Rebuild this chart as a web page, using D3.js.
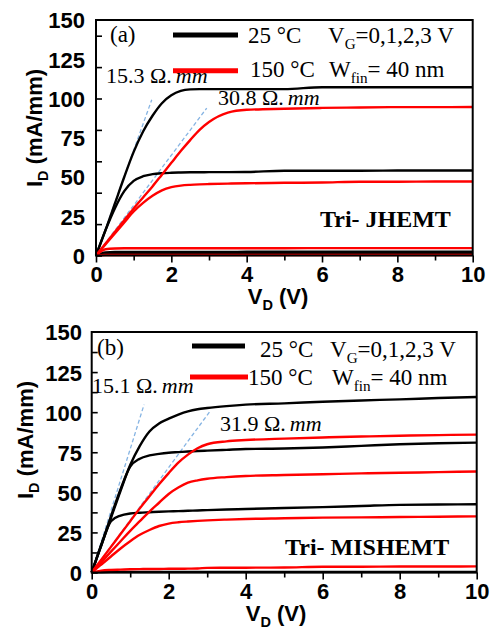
<!DOCTYPE html>
<html>
<head>
<meta charset="utf-8">
<script src="https://cdn.jsdelivr.net/npm/d3@7/dist/d3.min.js"></script>
<style>
  body { margin: 0; background: #fff; }
  .tick text { font-family: "Liberation Sans", Arial, sans-serif; font-weight: bold; font-size: 22px; fill: #000; }
  .serif { font-family: "Liberation Serif", "Times New Roman", serif; fill: #000; }
</style>
</head>
<body>
<div id="chart"></div>
<script>
// drain voltage grid shared by all curves
var vd = [0, 0.25, 0.5, 0.75, 1, 1.25, 1.5, 1.75, 2, 2.25, 2.5, 2.75, 3, 3.5, 4, 5, 6, 7, 8, 9, 10];

// (a) Tri- JHEMT, 25 C, VG = 3,2,1,0
var a25_3 = [0, 16, 33, 50, 66, 79, 89, 97, 102, 104.8, 105.8, 106, 106, 106, 106, 106, 107.2, 107.2, 107.2, 107.2, 107.2];
var a25_2 = [0, 16, 30, 41, 47.5, 50.5, 51.8, 52.4, 52.7, 52.9, 53, 53, 53.1, 53.1, 53.2, 54, 54, 54, 54.1, 54.1, 54.1];
var a25_1 = [0, 2, 2.2, 2.2, 2.2, 2.2, 2.2, 2.2, 2.2, 2.2, 2.2, 2.2, 2.2, 2.2, 2.4, 2.4, 2.4, 2.4, 2.4, 2.4, 2.4];
var a25_0 = [0, 0.8, 1, 1, 1, 1, 1, 1, 1, 1, 1, 1, 1, 1, 1, 1, 1, 1, 1, 1, 1];
// (a) 150 C
var a150_3 = [0, 7.5, 15, 22.5, 30, 37, 44, 51.5, 59, 66.5, 73.5, 80, 85, 91, 92.8, 93.5, 94, 94.3, 94.5, 94.5, 94.6];
var a150_2 = [0, 7, 14, 21, 28, 33.5, 38, 41.5, 43.5, 44.5, 45, 45.3, 45.5, 45.8, 46, 46.3, 46.5, 47, 47, 47.1, 47.1];
var a150_1 = [0, 4, 4.5, 4.6, 4.6, 4.6, 4.6, 4.6, 4.6, 4.6, 4.6, 4.6, 4.6, 4.6, 4.6, 4.6, 4.7, 4.7, 4.7, 4.7, 4.7];
var a150_0 = [0, 0.3, 0.3, 0.3, 0.3, 0.3, 0.3, 0.3, 0.3, 0.3, 0.3, 0.3, 0.3, 0.3, 0.3, 0.3, 0.3, 0.3, 0.3, 0.3, 0.3];

// (b) Tri- MISHEMT, 25 C
var b25_3 = [0, 17, 34, 51, 67, 79, 88, 93, 96, 98.5, 100.5, 101.8, 102.6, 103.8, 104.7, 105.5, 106.5, 107.3, 108, 108.8, 109.5];
var b25_2 = [0, 17.5, 35, 52, 66, 71, 73, 74, 74.7, 75.1, 75.5, 75.8, 76, 76.5, 77, 77.3, 78, 79, 80, 80.6, 81];
var b25_1 = [0, 17, 32, 35.5, 36.8, 37.3, 37.6, 37.9, 38.1, 38.3, 38.5, 38.7, 38.9, 39.3, 39.6, 40.2, 40.8, 41.5, 42.2, 42.4, 42.6];
var b25_0 = [0, 0.2, 0.3, 0.3, 0.3, 0.3, 0.3, 0.3, 0.3, 0.3, 0.3, 0.3, 0.3, 0.3, 0.3, 0.3, 0.3, 0.3, 0.3, 0.3, 0.3];
// (b) 150 C
var b150_3 = [0, 8, 16, 24, 32, 40, 47.5, 55, 62, 68.5, 73.5, 77.5, 80, 81.8, 82.6, 83.5, 84.2, 84.8, 85.3, 85.7, 86];
var b150_2 = [0, 6.5, 13, 19.5, 26, 32, 38, 43.5, 49, 53, 56, 57.5, 58.5, 59.5, 60.2, 60.8, 61.3, 61.8, 62.2, 62.6, 63];
var b150_1 = [0, 5, 10, 15, 19.5, 23.5, 26.5, 29, 30.5, 31.3, 31.8, 32.2, 32.5, 33, 33.4, 33.8, 34.2, 34.4, 34.6, 34.8, 35];
var b150_0 = [0, 1.2, 1.6, 1.8, 2.0, 2.1, 2.2, 2.2, 2.3, 2.3, 2.4, 2.5, 2.9, 3.0, 3.0, 3.1, 3.6, 3.6, 3.7, 3.7, 3.8];

// on-resistance fit lines: [V start, I start, V end, I end]
var fitsA = [[0, 0, 1.48, 99.2], [0, 0, 2.94, 93.9]];
var fitsB = [[0, 0, 1.36, 104.7], [0, 0, 3.07, 100.5]];

// axis ticks
var xTickLabels = [0, 2, 4, 6, 8, 10];
var xMinorTicks = [1, 3, 5, 7, 9];
var yTickLabels = [0, 25, 50, 75, 100, 125, 150];
var yTicksA = [0, 20, 40, 60, 80, 100, 120, 140];
var yTicksB = [0, 12.5, 25, 37.5, 50, 62.5, 75, 87.5, 100, 112.5, 125, 137.5];

var svg = d3.select("#chart").append("svg")
  .attr("width", 492)
  .attr("height", 630);

// text with subscripts; parts = [[string, isSub], ...]
function richText(g, x, y, parts, size, cls) {
  var t = g.append("text").attr("class", cls).attr("x", x).attr("y", y)
    .style("font-size", size + "px");
  var down = false;
  parts.forEach(function(p) {
    var s = t.append("tspan").text(p[0]);
    if (p[1] === "sub") {
      s.attr("dy", down ? 0 : size * 0.28).style("font-size", (size * 0.66) + "px");
      down = true;
    } else {
      if (down) s.attr("dy", -size * 0.28);
      if (p[1] === "it") s.style("font-style", "italic");
      if (p[1] === "gap") s.attr("dx", 4).style("font-style", "italic");
      down = false;
    }
  });
  return t;
}

function drawPanel(p) {
  var x = d3.scaleLinear().domain([0, 10]).range([p.left, p.right]);
  var y = d3.scaleLinear().domain([0, 150]).range([p.bottom, p.top]);
  var g = svg.append("g");

  // dashed linear fits, under the curves
  g.selectAll(".fit").data(p.fits).enter().append("line")
    .attr("x1", function(d) { return x(d[0]); })
    .attr("y1", function(d) { return y(d[1]); })
    .attr("x2", function(d) { return x(d[2]); })
    .attr("y2", function(d) { return y(d[3]); })
    .attr("stroke", "#86b4e3")
    .attr("stroke-width", 1.3)
    .attr("stroke-dasharray", "4,2.5");

  var line = d3.line()
    .x(function(d, i) { return x(vd[i]); })
    .y(function(d) { return y(d); })
    .curve(d3.curveMonotoneX);

  p.black.forEach(function(c) {
    g.append("path").attr("d", line(c)).attr("fill", "none")
      .attr("stroke", "#000").attr("stroke-width", 2.4);
  });
  p.red.forEach(function(c) {
    g.append("path").attr("d", line(c)).attr("fill", "none")
      .attr("stroke", "#ff0000").attr("stroke-width", 2.4);
  });

  // x axis: outward ticks
  var xa = g.append("g").attr("transform", "translate(0," + p.bottom + ")")
    .call(d3.axisBottom(x).tickValues(xTickLabels).tickSize(7).tickPadding(4));
  xa.append("g").call(d3.axisBottom(x).tickValues(xMinorTicks).tickSize(5).tickFormat(""));
  xa.selectAll(".domain").remove();
  xa.selectAll("line").attr("stroke-width", 1.6);

  // y axis: inward ticks, labels on their own grid
  var yt = g.append("g").attr("transform", "translate(" + p.left + ",0)")
    .call(d3.axisRight(y).tickValues(p.yTicks).tickSize(6).tickFormat(""));
  yt.selectAll(".domain").remove();
  yt.selectAll("line").attr("stroke-width", 1.6);
  var yl = g.append("g").attr("transform", "translate(" + p.left + ",0)")
    .call(d3.axisLeft(y).tickValues(yTickLabels).tickSize(0).tickPadding(p.left - p.labelRight));
  yl.selectAll(".domain").remove();
  yl.selectAll("text").attr("dy", "0.36em");

  // frame
  g.append("rect").attr("x", p.left).attr("y", p.top)
    .attr("width", p.right - p.left).attr("height", p.bottom - p.top)
    .attr("fill", "none").attr("stroke", "#000").attr("stroke-width", 2);

  // axis titles
  var yt2 = richText(g, 0, 0, [["I"], ["D", "sub"], [" (mA/mm)"]], 22, "");
  yt2.attr("transform", "translate(" + p.yTitleX + "," + p.yTitleY + ") rotate(-90)")
    .attr("text-anchor", "middle")
    .style("font-family", "Liberation Sans, Arial, sans-serif").style("font-weight", "bold");
  var xt = richText(g, p.xTitleX, p.xTitleY, [["V"], ["D", "sub"], [" (V)"]], 22, "");
  xt.attr("text-anchor", "middle")
    .style("font-family", "Liberation Sans, Arial, sans-serif").style("font-weight", "bold");

  // legend
  g.append("line").attr("x1", p.leg.x1).attr("x2", p.leg.x2)
    .attr("y1", p.leg.yBlack).attr("y2", p.leg.yBlack)
    .attr("stroke", "#000").attr("stroke-width", 5);
  g.append("line").attr("x1", p.leg.x1r).attr("x2", p.leg.x2r)
    .attr("y1", p.leg.yRed).attr("y2", p.leg.yRed)
    .attr("stroke", "#ff0000").attr("stroke-width", 5);
  richText(g, p.leg.t25x, p.leg.row1, [["25 °C"]], 23, "serif");
  richText(g, p.leg.t150x, p.leg.row2, [["150 °C"]], 23, "serif");
  richText(g, p.leg.vgx, p.leg.row1, [["V"], ["G", "sub"], ["=0,1,2,3 V"]], 23, "serif");
  richText(g, p.leg.wx, p.leg.row2, [["W"], ["fin", "sub"], ["= 40 nm"]], 23, "serif");

  richText(g, p.tagX, p.tagY, [[p.tag]], 23, "serif");
  p.res.forEach(function(r) {
    richText(g, r[0], r[1], [[r[2] + " Ω."], ["mm", "gap"]], 22, "serif");
  });
  richText(g, p.devX, p.devY, [[p.dev]], 24, "serif").style("font-weight", "bold");
}

drawPanel({
  left: 96, right: 472.7, top: 20, bottom: 255.5,
  yTicks: yTicksA, labelRight: 85,
  fits: fitsA,
  black: [a25_3, a25_2, a25_1, a25_0],
  red: [a150_3, a150_2, a150_1, a150_0],
  yTitleX: 42, yTitleY: 128, xTitleX: 278, xTitleY: 304,
  leg: { x1: 173, x2: 238, x1r: 173, x2r: 238, yBlack: 35, yRed: 70.7,
         t25x: 248, t150x: 250, vgx: 328, wx: 329, row1: 42.5, row2: 76.5 },
  tag: "(a)", tagX: 110, tagY: 42,
  res: [[106, 83, "15.3"], [218, 105, "30.8"]],
  dev: "Tri- JHEMT", devX: 320, devY: 227
});

drawPanel({
  left: 91.7, right: 476.7, top: 332, bottom: 572.5,
  yTicks: yTicksB, labelRight: 82,
  fits: fitsB,
  black: [b25_3, b25_2, b25_1, b25_0],
  red: [b150_3, b150_2, b150_1, b150_0],
  yTitleX: 33, yTitleY: 440, xTitleX: 276, xTitleY: 621,
  leg: { x1: 192, x2: 245, x1r: 190, x2r: 248, yBlack: 346, yRed: 377,
         t25x: 260, t150x: 248, vgx: 330, wx: 332, row1: 356.5, row2: 385 },
  tag: "(b)", tagX: 97, tagY: 355,
  res: [[92, 393, "15.1"], [220, 431, "31.9"]],
  dev: "Tri- MISHEMT", devX: 285, devY: 555
});
</script>
</body>
</html>
